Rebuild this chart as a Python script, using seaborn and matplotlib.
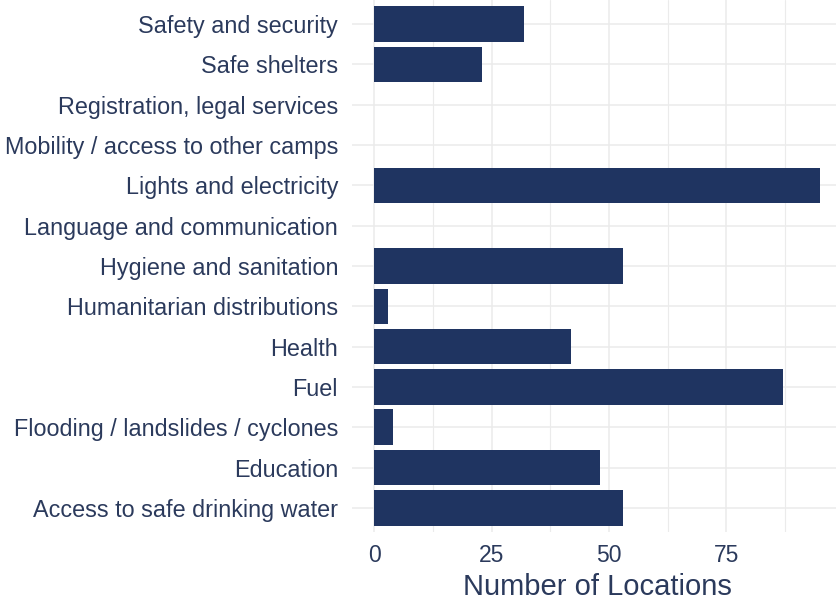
import matplotlib
matplotlib.use("Agg")
import matplotlib.pyplot as plt
import seaborn as sns
import pandas as pd
from matplotlib.ticker import MultipleLocator

categories = [
    "Safety and security",
    "Safe shelters",
    "Registration, legal services",
    "Mobility / access to other camps",
    "Lights and electricity",
    "Language and communication",
    "Hygiene and sanitation",
    "Humanitarian distributions",
    "Health",
    "Fuel",
    "Flooding / landslides / cyclones",
    "Education",
    "Access to safe drinking water",
]
values = [32, 23, 0, 0, 95, 0, 53, 3, 42, 87, 4, 48, 53]
x_ticks = [0, 25, 50, 75]
x_label = "Number of Locations"

df = pd.DataFrame({"category": categories, "value": values})

sns.set_theme(style="white")
plt.rcParams["font.family"] = ["Liberation Sans", "DejaVu Sans"]

bar_color = "#1f3461"
text_color = "#2b3a5c"
grid_color = "#ebebeb"

fig = plt.figure(figsize=(8.36, 6.05), dpi=100)
ax = fig.add_axes([352 / 836, 1 - 532 / 605, 490.5 / 836, 532 / 605])

sns.barplot(data=df, x="value", y="category", order=categories, orient="h",
            color=bar_color, saturation=1, width=0.88, ax=ax, linewidth=0)

ax.set_xlim(-4.75, 99.75)
ax.set_ylim(len(categories) - 1 + 0.6, -0.6)
ax.set_xticks(x_ticks)
ax.xaxis.set_minor_locator(MultipleLocator(12.5))
ax.set_axisbelow(True)
ax.grid(True, which="major", axis="both", color=grid_color, linewidth=1.1)
ax.grid(True, which="minor", axis="x", color=grid_color, linewidth=0.8)

for s in ax.spines.values():
    s.set_visible(False)

ax.tick_params(axis="both", which="both", length=0)
ax.tick_params(axis="y", labelsize=16.8, labelcolor=text_color, pad=10)
ax.tick_params(axis="x", labelsize=16.5, labelcolor=text_color, pad=9)
ax.set_ylabel("")
ax.set_xlabel(x_label, fontsize=21, color=text_color, labelpad=4)

fig.savefig("out.png", dpi=100)
